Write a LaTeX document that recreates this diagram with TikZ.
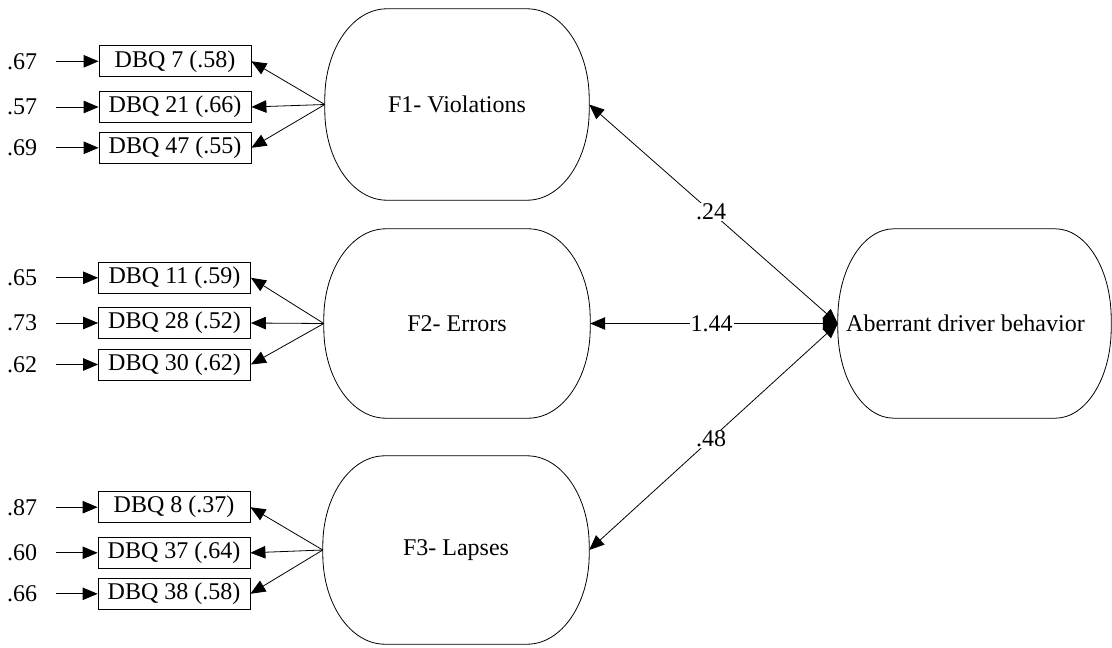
\documentclass[tikz,border=0pt]{standalone}
\usepackage{fontspec}
\setmainfont{Liberation Serif}
\usetikzlibrary{arrows.meta}
\newcommand\latentoutline[3]{% node, rx, ry
  \draw[line width=0.8pt] ([xshift=#2]#1.north west) -- ([xshift=-#2]#1.north east)
    arc[start angle=90,end angle=0,x radius=#2,y radius=#3]
    -- ([yshift=#3]#1.south east)
    arc[start angle=0,end angle=-90,x radius=#2,y radius=#3]
    -- ([xshift=#2]#1.south west)
    arc[start angle=-90,end angle=-180,x radius=#2,y radius=#3]
    -- ([yshift=-#3]#1.north west)
    arc[start angle=180,end angle=90,x radius=#2,y radius=#3] -- cycle;}
\begin{document}
\begin{tikzpicture}[x=1pt,y=1pt,
  every node/.style={font=\fontsize{24}{28}\selectfont},
  obs/.style={draw, line width=0.8pt, rectangle, minimum width=152pt, minimum height=31pt, inner sep=0pt},
  latent/.style={rectangle, inner sep=0pt},
  err/.style={inner sep=1pt},
  arr/.style={line width=0.8pt, -{Triangle[length=15pt,width=12.5pt]}},
  biarr/.style={line width=0.8pt, {Triangle[length=15pt,width=12.5pt]}-{Triangle[length=15pt,width=12.5pt]}},
  lbl/.style={fill=white, inner sep=1pt}]
\useasboundingbox (0,0) rectangle (1112,-648);
% latent variables
\node[latent, minimum width=264pt, minimum height=191pt] (F1) at (457,-104.5) {F1- Violations};
\node[latent, minimum width=266pt, minimum height=189pt] (F2) at (457,-323.5) {F2- Errors};
\node[latent, minimum width=266pt, minimum height=188pt] (F3) at (456,-550) {F3- Lapses};
\node[latent, minimum width=273pt, minimum height=189pt] (AB) at (974.5,-323.5) {Aberrant driver behavior\hspace*{18pt}};
\latentoutline{F1}{62pt}{90pt}
\latentoutline{F2}{62pt}{90pt}
\latentoutline{F3}{62pt}{90pt}
\latentoutline{AB}{56pt}{90pt}
% observed variables
\node[obs] (b1) at (175,-61.3) {DBQ 7 (.58)};
\node[obs] (b2) at (175,-107) {DBQ 21 (.66)};
\node[obs] (b3) at (175,-147.8) {DBQ 47 (.55)};
\node[obs] (b4) at (174.5,-277.8) {DBQ 11 (.59)};
\node[obs] (b5) at (174.5,-323) {DBQ 28 (.52)};
\node[obs] (b6) at (174.5,-364.5) {DBQ 30 (.62)};
\node[obs] (b7) at (174,-507.2) {DBQ 8 (.37)};
\node[obs] (b8) at (174,-552.8) {DBQ 37 (.64)};
\node[obs] (b9) at (174,-593.8) {DBQ 38 (.58)};
% error terms
\node[err] (e1) at (22,-61.3) {.67};
\node[err] (e2) at (22,-107) {.57};
\node[err] (e3) at (22,-147.8) {.69};
\node[err] (e4) at (22,-277.8) {.65};
\node[err] (e5) at (22,-323) {.73};
\node[err] (e6) at (22,-364.5) {.62};
\node[err] (e7) at (22,-507.2) {.87};
\node[err] (e8) at (22,-552.8) {.60};
\node[err] (e9) at (22,-593.8) {.66};
\foreach \i in {1,...,9} {\draw[arr, shorten <=18pt] (e\i) -- (b\i);}
% loadings
\foreach \b in {b1,b2,b3} {\draw[arr] (F1.west) -- (\b.east);}
\foreach \b in {b4,b5,b6} {\draw[arr] (F2.west) -- (\b.east);}
\foreach \b in {b7,b8,b9} {\draw[arr] (F3.west) -- (\b.east);}
% structural paths
\draw[biarr] (F1.east) -- (AB.west) node[lbl, pos=0.49] {.24};
\draw[biarr] (F2.east) -- (AB.west) node[lbl, pos=0.49] {1.44};
\draw[biarr] (F3.east) -- (AB.west) node[lbl, pos=0.49] {.48};
\end{tikzpicture}
\end{document}
